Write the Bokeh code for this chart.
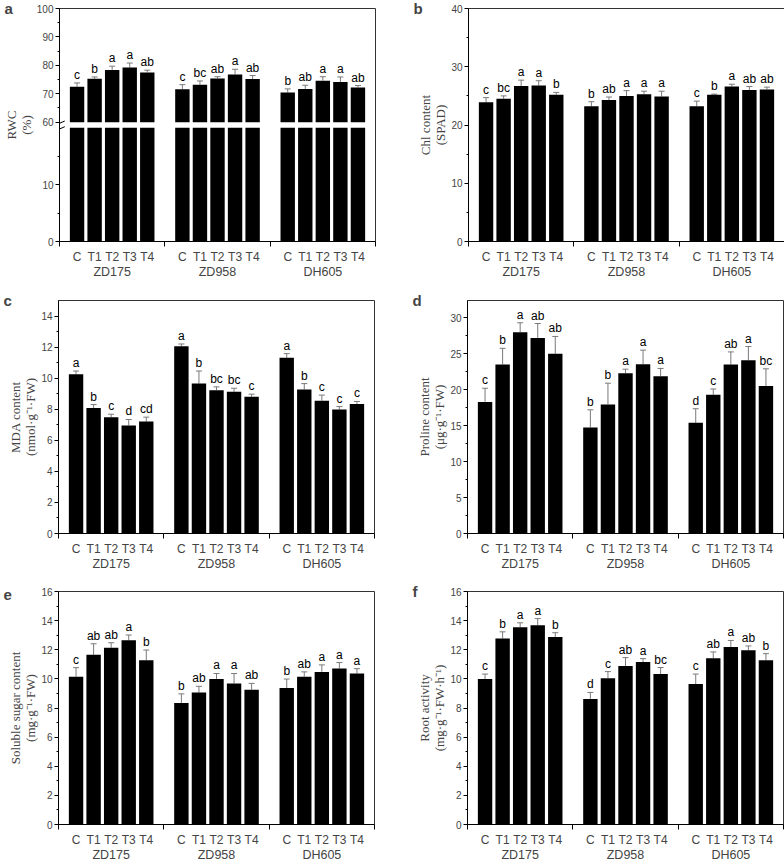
from bokeh.plotting import figure
from bokeh.models import (ColumnDataSource, FixedTicker, LinearAxis, Range1d,
                          Whisker, TeeHead, Arrow)
from bokeh.layouts import column, row
from bokeh.core.properties import value
from bokeh.embed import file_html
from bokeh.resources import INLINE

# ---------------- data ----------------
cultivars = ["ZD175", "ZD958", "DH605"]
treatments = ["C", "T1", "T2", "T3", "T4"]

# a: relative water content (%)
rwc_mean = [72.5, 75.3, 78.4, 79.2, 77.5, 71.6, 73.2, 75.4, 76.8, 75.2, 70.4, 71.7, 74.6, 74.1, 72.2]
rwc_err = [1.3, 0.6, 1.3, 1.6, 0.8, 1.6, 1.3, 0.6, 1.8, 1.2, 1.3, 1.3, 1.4, 1.8, 0.7]
rwc_sig = ["c", "b", "a", "a", "ab", "c", "bc", "ab", "a", "ab", "b", "ab", "a", "a", "ab"]

# b: chlorophyll content (SPAD)
chl_mean = [23.9, 24.5, 26.7, 26.8, 25.2, 23.2, 24.3, 25.0, 25.3, 24.9, 23.2, 25.2, 26.6, 26.0, 26.1]
chl_err = [0.8, 0.5, 1.0, 0.8, 0.4, 0.8, 0.5, 0.9, 0.5, 0.9, 0.9, 0.1, 0.4, 0.6, 0.4]
chl_sig = ["c", "bc", "a", "a", "b", "b", "ab", "a", "a", "a", "c", "b", "a", "ab", "ab"]

# c: MDA content
mda_mean = [10.25, 8.08, 7.49, 6.96, 7.21, 12.05, 9.65, 9.23, 9.12, 8.80, 11.31, 9.27, 8.55, 7.98, 8.34]
mda_err = [0.21, 0.22, 0.19, 0.38, 0.28, 0.15, 0.81, 0.21, 0.23, 0.17, 0.27, 0.38, 0.36, 0.19, 0.16]
mda_sig = ["a", "b", "c", "d", "cd", "a", "b", "bc", "bc", "c", "a", "b", "c", "c", "c"]

# d: proline content
pro_mean = [18.3, 23.5, 28.0, 27.2, 25.0, 14.75, 17.95, 22.3, 23.55, 21.85, 15.4, 19.3, 23.5, 24.1, 20.5]
pro_err = [1.9, 2.25, 1.3, 2.0, 2.4, 2.45, 2.95, 0.55, 1.95, 1.1, 1.95, 0.8, 1.75, 1.9, 2.4]
pro_sig = ["c", "b", "a", "ab", "ab", "b", "b", "a", "a", "a", "d", "c", "ab", "a", "bc"]

# e: soluble sugar content
sug_mean = [10.15, 11.65, 12.14, 12.65, 11.28, 8.35, 9.06, 10.0, 9.69, 9.26, 9.37, 10.15, 10.48, 10.71, 10.37]
sug_err = [0.62, 0.76, 0.34, 0.36, 0.70, 0.62, 0.43, 0.37, 0.68, 0.43, 0.62, 0.33, 0.48, 0.41, 0.33]
sug_sig = ["c", "ab", "ab", "a", "b", "b", "ab", "a", "a", "ab", "b", "ab", "a", "a", "a"]

# f: root activity
root_mean = [9.99, 12.78, 13.55, 13.69, 12.87, 8.62, 10.05, 10.89, 11.16, 10.33, 9.65, 11.42, 12.19, 11.96, 11.28]
root_err = [0.34, 0.45, 0.30, 0.45, 0.30, 0.45, 0.45, 0.57, 0.23, 0.45, 0.68, 0.43, 0.45, 0.30, 0.45]
root_sig = ["c", "b", "a", "a", "b", "d", "c", "ab", "a", "bc", "c", "ab", "a", "ab", "b"]

# ---------------- styling ----------------
SANS = "Liberation Sans"
SERIF = "Liberation Serif"
ERR_COLOR = "#7a7a7a"

n_t = len(treatments)
XS, XLABS = [], []
for g, _ in enumerate(cultivars):
    for t, tr in enumerate(treatments):
        XS.append(g * (n_t + 1) + t)
        XLABS.append(tr)
GROUP_CENTERS = [g * (n_t + 1) + (n_t - 1) / 2 for g in range(len(cultivars))]
SEPARATORS = [g * (n_t + 1) - 1 for g in range(len(cultivars) + 1)]
X_LO, X_HI = SEPARATORS[0], SEPARATORS[-1]


def identity(v):
    return v


def rwc_tf(v):
    # broken axis: 0-20 linear, gap, 60-100 compressed by half
    return v if v <= 20 else 21 + (v - 60) * 0.5


def make_panel(letter, ylabel, mean, err, sig, ymax, major, minor, col, rw,
               tf=identity, brk=None):
    mbr = 35 if col == 0 else 1
    mbb = [51, 50, 20][rw]
    p = figure(frame_width=316, frame_height=233,
               x_range=Range1d(X_LO, X_HI), y_range=Range1d(0, tf(ymax)),
               x_axis_type=None, output_backend="svg", toolbar_location=None,
               min_border_left=58, min_border_right=mbr,
               min_border_top=8, min_border_bottom=mbb)
    p.grid.visible = False
    p.outline_line_color = "#333333"
    p.outline_line_width = 1
    p.background_fill_color = "white"
    p.border_fill_color = "white"

    # panel letter as the title, pulled down next to the frame's top-left corner
    p.title.text = letter
    p.title.align = "left"
    p.title.offset = -55
    p.title.text_font = SANS
    p.title.text_font_style = "bold"
    p.title.text_font_size = "15px"
    p.title.vertical_align = "bottom"
    try:
        p.title.standoff = -17
    except Exception:
        p.title.standoff = 0

    top = [tf(m) for m in mean]
    upper = [tf(m + e) for m, e in zip(mean, err)]
    src = ColumnDataSource(dict(x=XS, top=top, lower=top, upper=upper, sig=sig))

    if brk is None:
        p.vbar(x="x", top="top", bottom=0, width=0.82, source=src,
               fill_color="black", line_color=None)
    else:
        lo, hi = brk
        src.data["lo_top"] = [tf(min(m, lo)) for m in mean]
        src.data["hi_bot"] = [tf(hi) for _ in mean]
        p.vbar(x="x", top="lo_top", bottom=0, width=0.82, source=src,
               fill_color="black", line_color=None)
        p.vbar(x="x", top="top", bottom="hi_bot", width=0.82, source=src,
               fill_color="black", line_color=None)
        for k in range(2):
            p.add_layout(Arrow(x_start=X_LO - 0.3, y_start=tf(lo) - 0.6 + k * 1.0,
                               x_end=X_LO + 0.3, y_end=tf(lo) + 0.2 + k * 1.0,
                               start=None, end=None, line_color="black", line_width=1))

    p.add_layout(Whisker(base="x", lower="lower", upper="upper", source=src,
                         dimension="height", line_color=ERR_COLOR, line_width=1,
                         upper_head=TeeHead(size=6, line_color=ERR_COLOR, line_width=1),
                         lower_head=None))

    p.text(x="x", y="upper", text="sig", source=src, text_align="center",
           text_baseline="bottom", y_offset=-1,
           text_font=value(SANS), text_font_size=value("12px"), text_color="black")

    # y axis
    yax = p.yaxis[0]
    yax.ticker = FixedTicker(ticks=[tf(v) for v in major],
                             minor_ticks=[tf(v) for v in minor])
    if brk is not None:
        yax.major_label_overrides = {tf(v): str(v) for v in major}
    yax.major_tick_out = 4
    yax.major_tick_in = 0
    yax.minor_tick_out = 2
    yax.minor_tick_in = 0
    yax.major_label_standoff = 2
    yax.major_label_text_font = SANS
    yax.major_label_text_font_size = "10px"
    yax.axis_label = ylabel
    yax.axis_label_text_font = SERIF
    yax.axis_label_text_font_style = "normal"
    yax.axis_label_text_font_size = "13px"
    yax.axis_label_text_line_height = 1.0
    yax.axis_label_standoff = 0
    yax.axis_line_color = "black"

    # x axis: treatment labels + group separators
    ax1 = LinearAxis(ticker=FixedTicker(ticks=XS, minor_ticks=SEPARATORS),
                     major_label_overrides={x: lab for x, lab in zip(XS, XLABS)},
                     major_tick_out=0, major_tick_in=0,
                     minor_tick_out=5, minor_tick_in=0,
                     major_label_standoff=3,
                     major_label_text_font=SANS, major_label_text_font_size="12px",
                     major_label_text_line_height=1.0,
                     axis_line_color="black")
    ax2 = LinearAxis(ticker=FixedTicker(ticks=GROUP_CENTERS, minor_ticks=[]),
                     major_label_overrides={x: c for x, c in zip(GROUP_CENTERS, cultivars)},
                     major_tick_out=0, major_tick_in=0, major_tick_line_color=None,
                     minor_tick_line_color=None, axis_line_color=None,
                     major_label_standoff=-2,
                     major_label_text_font=SANS, major_label_text_font_size="12.5px",
                     major_label_text_line_height=1.0)
    p.add_layout(ax1, "below")
    p.add_layout(ax2, "below")
    return p


pa = make_panel("a", "RWC\n(%)", rwc_mean, rwc_err, rwc_sig, 100,
                [0, 10, 60, 70, 80, 90, 100], [5, 15, 65, 75, 85, 95], 0, 0,
                tf=rwc_tf, brk=(20, 60))
pb = make_panel("b", "Chl content\n(SPAD)", chl_mean, chl_err, chl_sig, 40,
                list(range(0, 41, 10)), list(range(5, 40, 10)), 1, 0)
pc = make_panel("c", "MDA content\n(nmol\u00b7g\u207b\u00b9\u00b7FW)", mda_mean, mda_err, mda_sig, 15,
                list(range(0, 15, 2)), list(range(1, 15, 2)), 0, 1)
pd_ = make_panel("d", "Proline content\n(\u03bcg\u00b7g\u207b\u00b9\u00b7FW)", pro_mean, pro_err, pro_sig, 32.4,
                 list(range(0, 31, 5)), [2.5, 7.5, 12.5, 17.5, 22.5, 27.5], 1, 1)
pe = make_panel("e", "Soluble sugar content\n(mg\u00b7g\u207b\u00b9\u00b7FW)", sug_mean, sug_err, sug_sig, 16,
                list(range(0, 17, 2)), list(range(1, 16, 2)), 0, 2)
pf = make_panel("f", "Root activity\n(mg\u00b7g\u207b\u00b9\u00b7FW\u00b7h\u207b\u00b9)", root_mean, root_err, root_sig, 16,
                list(range(0, 17, 2)), list(range(1, 16, 2)), 1, 2)

layout = column(row(pa, pb), row(pc, pd_), row(pe, pf))

with open("out.html", "w") as f:
    f.write(file_html(layout, INLINE))
